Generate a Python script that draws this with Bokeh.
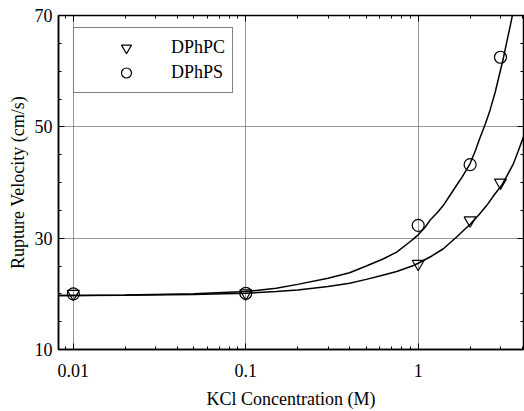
from bokeh.plotting import figure
from bokeh.models import (LogAxis, LinearAxis, FixedTicker, Legend, LegendItem,
                          Range1d)
from bokeh.embed import file_html
from bokeh.resources import INLINE

# ---- data ----
conc = [0.01, 0.1, 1, 2, 3]
dphpc = [20.0, 20.1, 25.4, 33.2, 40.0]
dphps = [20.0, 20.1, 32.3, 43.2, 62.5]

fit_pc_x = [0.0082, 0.01, 0.02, 0.05, 0.1, 0.15, 0.2, 0.3, 0.4, 0.5, 0.63, 0.75, 0.94, 1.0,
            1.2, 1.4, 1.67, 2.0, 2.25, 2.5, 2.75, 3.05, 3.3, 3.57, 3.8, 4.08]
fit_pc_y = [19.7, 19.7, 19.75, 19.9, 20.1, 20.4, 20.7, 21.3, 21.9, 22.6, 23.4, 24.0, 25.1, 25.5,
            26.8, 28.1, 30.2, 32.5, 34.2, 35.9, 37.7, 39.5, 41.4, 43.4, 45.6, 48.2]

fit_ps_x = [0.0082, 0.01, 0.02, 0.05, 0.1, 0.15, 0.2, 0.3, 0.4, 0.5, 0.63, 0.75, 0.9, 0.95, 1.0,
            1.1, 1.17, 1.3, 1.4, 1.5, 1.67, 1.8, 2.0, 2.15, 2.28, 2.45, 2.61, 2.8, 3.1, 3.25, 3.41, 3.6]
fit_ps_y = [19.7, 19.7, 19.8, 20.0, 20.4, 21.0, 21.7, 22.8, 23.8, 25.0, 26.3, 27.5, 29.4, 30.0, 30.6,
            32.0, 33.2, 34.7, 35.9, 37.3, 39.5, 41.0, 43.4, 45.8, 48.0, 50.5, 53.0, 56.3, 62.0, 65.0, 68.0, 71.5]

x_major = [0.01, 0.1, 1]
x_minor = [0.009, 0.02, 0.03, 0.04, 0.05, 0.06, 0.07, 0.08, 0.09,
           0.2, 0.3, 0.4, 0.5, 0.6, 0.7, 0.8, 0.9, 2, 3, 4]
x_labels = {0.01: "0.01", 0.1: "0.1", 1: "1"}
y_major = [10, 30, 50, 70]
y_minor = [15, 20, 25, 35, 40, 45, 55, 60, 65]

FONT = "Liberation Serif"

p = figure(width=524, height=411, x_axis_type="log",
           x_range=Range1d(0.0082, 4.08), y_range=Range1d(10, 70),
           output_backend="svg", toolbar_location=None,
           min_border_left=58, min_border_right=1, min_border_top=15, min_border_bottom=62,
           background_fill_color="white", border_fill_color="white")

p.outline_line_color = "black"
p.outline_line_width = 1.5

# grids
p.xgrid.ticker = FixedTicker(ticks=x_major)
p.ygrid.ticker = FixedTicker(ticks=y_major)
for g in (p.xgrid, p.ygrid):
    g.grid_line_color = "#333333"
    g.grid_line_dash = "1 1"
    g.grid_line_width = 1

def style_axis(ax, labels=True):
    ax.axis_line_color = "black"
    ax.axis_line_width = 1.5
    ax.major_tick_in = 6
    ax.major_tick_out = 0
    ax.minor_tick_in = 3
    ax.minor_tick_out = 0
    ax.major_tick_line_color = "black"
    ax.minor_tick_line_color = "black"
    if labels:
        ax.major_label_text_font = FONT
        ax.major_label_text_font_size = "18px"
        ax.major_label_text_color = "black"
        ax.axis_label_text_font = FONT
        ax.axis_label_text_font_size = "18px"
        ax.axis_label_text_font_style = "normal"
        ax.axis_label_text_color = "black"
    else:
        ax.major_label_text_font_size = "1px"
        ax.major_label_text_alpha = 0
        ax.major_label_standoff = 0

xax = p.xaxis[0]
xax.ticker = FixedTicker(ticks=x_major, minor_ticks=x_minor)
xax.major_label_overrides = x_labels
xax.axis_label = "KCl Concentration (M)"
style_axis(xax)
xax.major_label_standoff = 14
xax.axis_label_standoff = 9

yax = p.yaxis[0]
yax.ticker = FixedTicker(ticks=y_major, minor_ticks=y_minor)
yax.axis_label = "Rupture Velocity (cm/s)"
style_axis(yax)
yax.major_label_standoff = 6
yax.axis_label_standoff = 4

top = LogAxis(ticker=FixedTicker(ticks=x_major, minor_ticks=x_minor))
style_axis(top, labels=False)
top.axis_line_width = 1
p.add_layout(top, "above")

right = LinearAxis(ticker=FixedTicker(ticks=y_major, minor_ticks=y_minor))
style_axis(right, labels=False)
right.axis_line_width = 1
p.add_layout(right, "right")

# fitted curves
p.line(fit_ps_x, fit_ps_y, line_color="black", line_width=1.5)
p.line(fit_pc_x, fit_pc_y, line_color="black", line_width=1.5)

# data points
r_pc = p.scatter(conc, dphpc, marker="inverted_triangle", size=12,
                 fill_color=None, line_color="black", line_width=1.2)
r_ps = p.scatter(conc, dphps, marker="circle", size=12,
                 fill_color=None, line_color="black", line_width=1.2)

legend = Legend(items=[LegendItem(label="DPhPC", renderers=[r_pc]),
                       LegendItem(label="DPhPS", renderers=[r_ps])],
                location=(15, 256), margin=0, padding=7, spacing=0,
                glyph_width=90, glyph_height=25, label_height=21,
                label_standoff=0, label_text_font=FONT,
                label_text_font_size="18px", label_text_color="black",
                border_line_color="black", border_line_width=1.5,
                background_fill_color="white", background_fill_alpha=1)
p.add_layout(legend, "center")

open("out.html", "w").write(file_html(p, INLINE))
